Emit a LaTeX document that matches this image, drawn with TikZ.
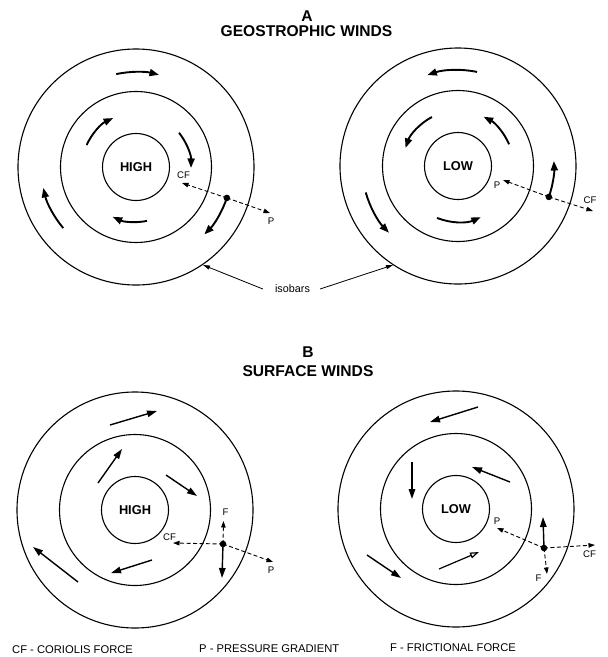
\documentclass[tikz,border=0pt]{standalone}
\usepackage{fontspec}
\setmainfont{Liberation Sans}
\usetikzlibrary{arrows.meta,calc}
\begin{document}
\begin{tikzpicture}[x=1pt,y=-1pt,
  isobar/.style={line width=1.1pt},
  wind/.style={line width=1.9pt,-{Triangle[length=9.5pt,width=7pt]}},
  swind/.style={line width=1.4pt,-{Triangle[length=10pt,width=6.5pt]}},
  owind/.style={line width=1.2pt,-{Triangle[open,length=9pt,width=6pt]}},
  force/.style={line width=0.9pt,dash pattern=on 4pt off 2.5pt,-{Triangle[length=6.5pt,width=4.5pt]}},
  ptr/.style={line width=0.8pt,-{Triangle[length=7pt,width=4pt]}},
  title/.style={inner sep=0pt,font=\fontsize{15.6pt}{17pt}\selectfont\bfseries},
  centre/.style={inner sep=0pt,font=\fontsize{12.8pt}{14pt}\selectfont\bfseries},
  flabel/.style={inner sep=0pt,font=\fontsize{9.6pt}{10pt}\selectfont},
  legend/.style={inner sep=0pt,anchor=west,font=\fontsize{11.2pt}{13pt}\selectfont},
  dot/.style={fill=black}]
\useasboundingbox (0,0) rectangle (608,657);

% Titles
\node[title] (tA) at (307,16) {A};
\node[title] (tGeo) at (306.5,31.5) {GEOSTROPHIC WINDS};
\node[title] (tB) at (308,352) {B};
\node[title] (tSurf) at (308,371) {SURFACE WINDS};

% ---------- Top left : HIGH geostrophic ----------
\coordinate (c1) at (136,167);
\draw[isobar] (c1) circle (33.5) (c1) circle (75.5) (c1) circle (118);
\node[centre] (h1) at (c1) {HIGH};
\coordinate (a1) at ($(c1)+(-102:95)$);
\draw[wind] (a1) arc[start angle=-102,end angle=-76,radius=95];
\coordinate (a2) at ($(c1)+(-156:54)$);
\draw[wind] (a2) arc[start angle=-156,end angle=-115,radius=54];
\coordinate (a3) at ($(c1)+(-38.5:55)$);
\draw[wind] (a3) arc[start angle=-38.5,end angle=1,radius=55];
\coordinate (a4) at ($(c1)+(78.5:55)$);
\draw[wind] (a4) arc[start angle=78.5,end angle=115,radius=55];
\coordinate (a5) at ($(c1)+(140:95)$);
\draw[wind] (a5) arc[start angle=140,end angle=167.3,radius=95];
\coordinate (d1) at ($(c1)+(18.8:96)$);
\draw[wind] (d1) arc[start angle=18.8,end angle=44.6,radius=96];
\coordinate (cf1) at (182,183);
\coordinate (p1) at (270,213);
\draw[force] (d1) -- (cf1);
\draw[force] (d1) -- (p1);
\fill[dot] (d1) circle (3.3);
\node[flabel] (lcf1) at (183.5,175.5) {CF};
\node[flabel] (lp1) at (271,221) {P};

% ---------- Top right : LOW geostrophic ----------
\coordinate (c2) at (458,166);
\draw[isobar] (c2) circle (33.5) (c2) circle (75.5) (c2) circle (118);
\node[centre] (l2) at (c2) {LOW};
\coordinate (b1) at ($(c2)+(-78.6:96)$);
\draw[wind] (b1) arc[start angle=-78.6,end angle=-108.6,radius=96];
\coordinate (b2) at ($(c2)+(-23:55.5)$);
\draw[wind] (b2) arc[start angle=-23,end angle=-62.5,radius=55.5];
\coordinate (b3) at ($(c2)+(-118:55.5)$);
\draw[wind] (b3) arc[start angle=-118,end angle=-161,radius=55.5];
\coordinate (b4) at ($(c2)+(112:56)$);
\draw[wind] (b4) arc[start angle=112,end angle=66,radius=56];
\coordinate (b5) at ($(c2)+(164:96)$);
\draw[wind] (b5) arc[start angle=164,end angle=136,radius=96];
\coordinate (d2) at ($(c2)+(18.8:96)$);
\draw[wind] (d2) arc[start angle=18.8,end angle=-3,radius=96];
\coordinate (p2) at (503,180);
\coordinate (cf2) at (593,211);
\draw[force] (d2) -- (p2);
\draw[force] (d2) -- (cf2);
\fill[dot] (d2) circle (3.3);
\node[flabel] (lp2) at (497,185) {P};
\node[flabel] (lcf2) at (590,200) {CF};

% isobars pointer
\node[inner sep=0pt,font=\fontsize{10.8pt}{12pt}\selectfont] (iso) at (292.5,289) {isobars};
\coordinate (ia1) at (203,265);
\coordinate (ia2) at (393,265);
\draw[ptr] ([xshift=-12pt]iso.west) -- (ia1);
\draw[ptr] ([xshift=10pt]iso.east) -- (ia2);

% ---------- Bottom left : HIGH surface ----------
\coordinate (c3) at (135,510);
\draw[isobar] (c3) circle (33.5) (c3) circle (75.5) (c3) circle (118);
\node[centre] (h3) at (c3) {HIGH};
\coordinate (e1s) at (110,425); \coordinate (e1e) at (157,411);
\draw[swind] (e1s) -- (e1e);
\coordinate (e2s) at (98,483); \coordinate (e2e) at (122,449);
\draw[swind] (e2s) -- (e2e);
\coordinate (e3s) at (166,475); \coordinate (e3e) at (197,496);
\draw[swind] (e3s) -- (e3e);
\coordinate (e4s) at (152,560); \coordinate (e4e) at (111,573);
\draw[swind] (e4s) -- (e4e);
\coordinate (e5s) at (78,582); \coordinate (e5e) at (33,547);
\draw[swind] (e5s) -- (e5e);
\coordinate (d3) at (223,544);
\coordinate (dn3) at (222,578);
\draw[swind] (d3) -- (dn3);
\coordinate (f3) at (223.5,521);
\coordinate (cf3) at (173,543);
\coordinate (p3) at (273,562);
\draw[force] (d3) -- (f3);
\draw[force] (d3) -- (cf3);
\draw[force] (d3) -- (p3);
\fill[dot] (d3) circle (3.3);
\node[flabel] (lf3) at (225.5,512.5) {F};
\node[flabel] (lcf3) at (169.5,537) {CF};
\node[flabel] (lp3) at (271,570) {P};

% ---------- Bottom right : LOW surface ----------
\coordinate (c4) at (456,509);
\draw[isobar] (c4) circle (33.5) (c4) circle (75.5) (c4) circle (118);
\node[centre] (l4) at (c4) {LOW};
\coordinate (g1s) at (478,407); \coordinate (g1e) at (430,422);
\draw[swind] (g1s) -- (g1e);
\coordinate (g2s) at (510,482); \coordinate (g2e) at (472,467);
\draw[swind] (g2s) -- (g2e);
\coordinate (g3s) at (412,462); \coordinate (g3e) at (412,499);
\draw[swind] (g3s) -- (g3e);
\coordinate (g4s) at (439,569); \coordinate (g4e) at (479,552);
\draw[owind] (g4s) -- (g4e);
\coordinate (g5s) at (367,555); \coordinate (g5e) at (401,578);
\draw[swind] (g5s) -- (g5e);
\coordinate (d4) at (544,548);
\coordinate (up4) at (543,517);
\draw[swind] (d4) -- (up4);
\coordinate (p4) at (497,528);
\coordinate (cf4) at (595,545);
\coordinate (f4) at (547,574);
\draw[force] (d4) -- (p4);
\draw[force] (d4) -- (cf4);
\draw[force] (d4) -- (f4);
\fill[dot] (d4) circle (3.3);
\node[flabel] (lp4) at (497,521.5) {P};
\node[flabel] (lcf4) at (589.5,554) {CF};
\node[flabel] (lf4) at (538.5,578) {F};

% ---------- Legend ----------
\node[legend] (k1) at (12,650) {CF - CORIOLIS FORCE};
\node[legend] (k2) at (199,649) {P - PRESSURE GRADIENT};
\node[legend] (k3) at (390,648) {F - FRICTIONAL FORCE};
\end{tikzpicture}
\end{document}
